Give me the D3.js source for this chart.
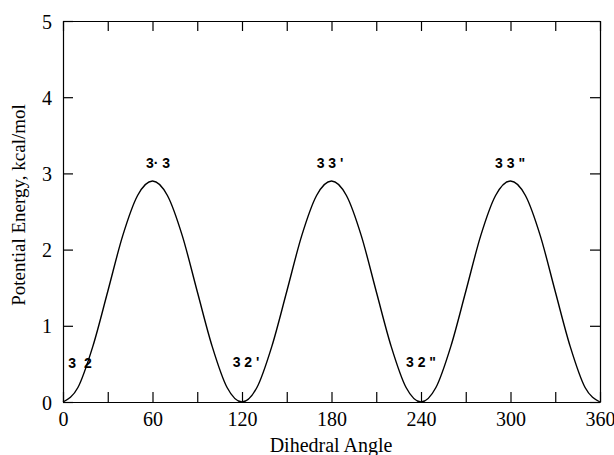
<!DOCTYPE html>
<html><head><meta charset="utf-8">
<script src="https://cdn.jsdelivr.net/npm/d3@7"></script>
<style>body{margin:0;background:#fff}svg{display:block}</style>
</head><body>
<script>
// Data (energy every 10 degrees)
const angles = [0,10,20,30,40,50,60,70,80,90,100,110,120,130,140,150,160,170,180,190,200,210,220,230,240,250,260,270,280,290,300,310,320,330,340,350,360];
const energies = [0,0.19,0.73,1.45,2.18,2.71,2.9,2.71,2.18,1.45,0.73,0.19,0,0.19,0.73,1.45,2.18,2.71,2.9,2.71,2.18,1.45,0.73,0.19,0,0.19,0.73,1.45,2.18,2.71,2.9,2.71,2.18,1.45,0.73,0.19,0];
const xTickLabels = [0,60,120,180,240,300,360];
const xMinorTicks = [30,90,150,210,270,330];
const yTickLabels = [0,1,2,3,4,5];
const labelTexts = ["3  2","3\u00B7 3","3 3 '","3 3 \"","3 2 '","3 2 \""];
const labelAngles = [11.4,63.7,179,299.7,122.7,240];
const labelEnergies = [0.51,3.14,3.14,3.14,0.52,0.52];

const W=614,H=455, m={l:63,r:14,t:21,b:53};
const svg=d3.select("body").append("svg").attr("width",W).attr("height",H);
const x=d3.scaleLinear().domain([0,360]).range([m.l,W-m.r]);
const y=d3.scaleLinear().domain([0,5]).range([H-m.b,m.t]);
const tl=10;
const serif="'Liberation Serif','Times New Roman',serif";

const allX=[...xTickLabels,...xMinorTicks];
// bottom axis
const gb=svg.append("g").attr("transform",`translate(0,${y(0)})`)
  .call(d3.axisBottom(x).tickValues(allX).tickSizeInner(-tl).tickSizeOuter(0).tickPadding(10)
  .tickFormat(d=>xTickLabels.includes(d)?d:""));
// top axis
const gt=svg.append("g").attr("transform",`translate(0,${y(5)})`)
  .call(d3.axisTop(x).tickValues(allX).tickSizeInner(-tl).tickSizeOuter(0).tickFormat(""));
// left axis
const gl=svg.append("g").attr("transform",`translate(${x(0)},0)`)
  .call(d3.axisLeft(y).tickValues(yTickLabels).tickSizeInner(-tl).tickSizeOuter(0).tickPadding(11).tickFormat(d3.format("d")));
// right axis
const gr=svg.append("g").attr("transform",`translate(${x(360)},0)`)
  .call(d3.axisRight(y).tickValues(yTickLabels).tickSizeInner(-tl).tickSizeOuter(0).tickFormat(""));
[gb,gt,gl,gr].forEach(g=>{
  g.selectAll("path,line").attr("stroke","#000").attr("stroke-width",1.2);
  g.selectAll("text").attr("font-family",serif).attr("font-size",20).attr("fill","#000");
});
gl.selectAll(".tick text").attr("dy","0.35em");

// curve
svg.append("path")
  .datum(angles.map((a,i)=>[a,energies[i]]))
  .attr("fill","none").attr("stroke","#000").attr("stroke-width",1.4)
  .attr("d",d3.line().x(d=>x(d[0])).y(d=>y(d[1])).curve(d3.curveMonotoneX));

// annotations
svg.append("g").selectAll("text").data(labelTexts).join("text")
  .attr("x",(d,i)=>x(labelAngles[i])).attr("y",(d,i)=>y(labelEnergies[i]))
  .attr("text-anchor","middle").attr("dy","0.35em")
  .attr("font-family","'Liberation Sans',Arial,sans-serif").attr("font-weight","bold")
  .attr("font-size",14).attr("fill","#000").attr("xml:space","preserve").style("white-space","pre")
  .text(d=>d);

// axis titles
svg.append("text").attr("x",331).attr("y",452).attr("text-anchor","middle")
  .attr("font-family",serif).attr("font-size",20).text("Dihedral Angle");
svg.append("text").attr("transform",`translate(25,205) rotate(-90)`)
  .attr("text-anchor","middle").attr("font-family",serif).attr("font-size",19)
  .text("Potential Energy, kcal/mol");
</script>
</body></html>
